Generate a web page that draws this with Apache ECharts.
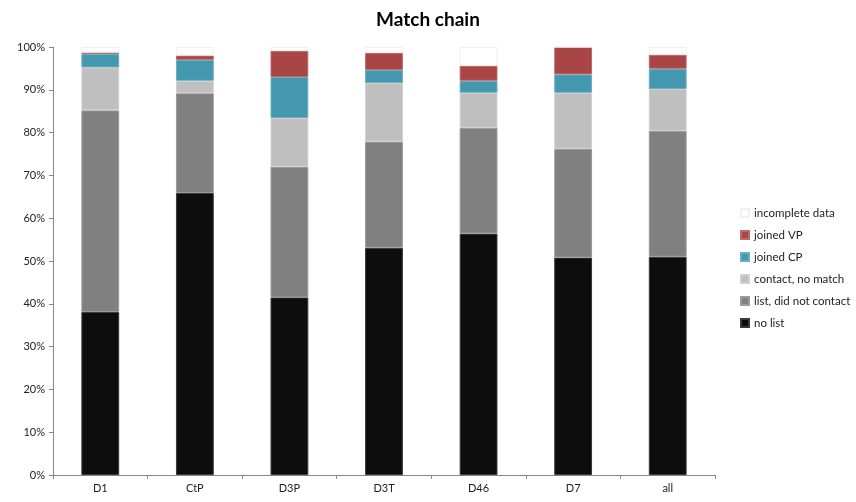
<!DOCTYPE html>
<html>
<head>
<meta charset="utf-8">
<script src="https://cdn.jsdelivr.net/npm/echarts@6/dist/echarts.min.js"></script>
<style>
  html, body { margin: 0; padding: 0; background: #fff; }
  #chart { width: 856px; height: 502px; }
</style>
</head>
<body>
<div id="chart"></div>
<script>
// categories on the x axis
const categories = ['D1', 'CtP', 'D3P', 'D3T', 'D46', 'D7', 'all'];

// share of each outcome, in percent
const noList     = [38.1, 65.9, 41.5, 53.1, 56.4, 50.8, 51.0];
const listNoCont = [47.1, 23.3, 30.5, 24.8, 24.7, 25.4, 29.4];
const contactNoM = [10.0,  2.9, 11.4, 13.7,  8.2, 13.1,  9.8];
const joinedCP   = [ 3.2,  4.9,  9.6,  3.0,  2.8,  4.3,  4.7];
const joinedVP   = [ 0.3,  1.0,  6.1,  4.0,  3.5,  6.4,  3.3];
const incomplete = [ 1.3,  2.0,  0.9,  1.4,  4.4,  0.0,  1.8];

const yTicks = [0, 10, 20, 30, 40, 50, 60, 70, 80, 90, 100];

const font = 'Lato, "Open Sans", sans-serif';

function seriesOf(name, data, color, border) {
  return {
    name: name,
    type: 'bar',
    stack: 'total',
    barWidth: '40%',
    data: data,
    itemStyle: { color: color, borderColor: border, borderWidth: 1 },
    emphasis: { disabled: true }
  };
}

const chart = echarts.init(document.getElementById('chart'));

const option = {
  animation: false,
  title: {
    text: 'Match chain',
    left: 'center',
    top: 5,
    textStyle: { fontFamily: font, fontSize: 19, fontWeight: 'bold', color: '#000' }
  },
  legend: {
    orient: 'vertical',
    left: 735,
    top: 202,
    itemWidth: 8,
    itemHeight: 8,
    itemGap: 10,
    icon: 'rect',
    data: ['incomplete data', 'joined VP', 'joined CP', 'contact, no match', 'list, did not contact', 'no list'],
    textStyle: { fontFamily: font, fontSize: 11.5, color: '#222' }
  },
  grid: { left: 53, right: 141, top: 47, bottom: 27, containLabel: false },
  xAxis: {
    type: 'category',
    data: categories,
    axisLine: { lineStyle: { color: '#868686' } },
    axisTick: { show: true, length: 4, lineStyle: { color: '#868686' } },
    axisLabel: { fontFamily: font, fontSize: 11, color: '#222', margin: 8 }
  },
  yAxis: {
    type: 'value',
    min: 0,
    max: 100,
    interval: 10,
    axisLine: { show: true, lineStyle: { color: '#868686' } },
    axisTick: { show: true, length: 4, lineStyle: { color: '#868686' } },
    splitLine: { show: false },
    axisLabel: {
      fontFamily: font, fontSize: 11, color: '#222', margin: 8,
      formatter: v => yTicks.includes(v) ? v + '%' : ''
    }
  },
  series: [
    seriesOf('no list', noList, '#0d0d0d', '#3a3a3a'),
    seriesOf('list, did not contact', listNoCont, '#808080', '#9a9a9a'),
    seriesOf('contact, no match', contactNoM, '#bfbfbf', '#d0d0d0'),
    seriesOf('joined CP', joinedCP, '#4398b0', '#6aaec2'),
    seriesOf('joined VP', joinedVP, '#a94544', '#bd6a69'),
    seriesOf('incomplete data', incomplete, '#ffffff', '#f0f0f0')
  ]
};

chart.setOption(option);
</script>
</body>
</html>
